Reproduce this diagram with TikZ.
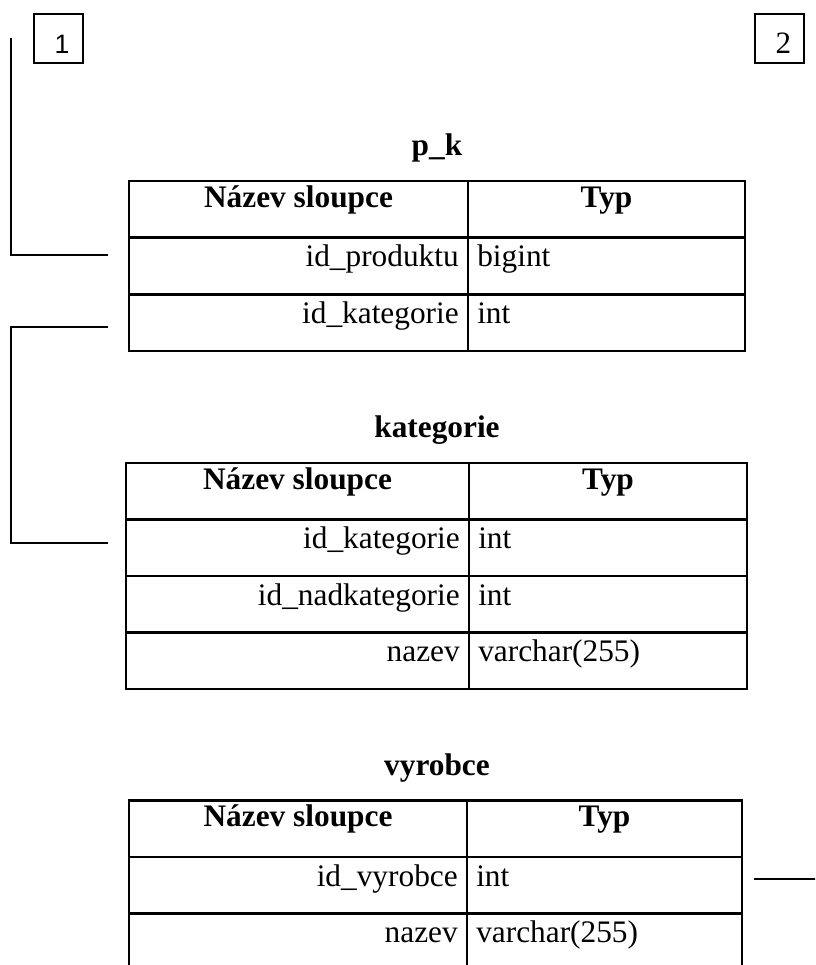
\documentclass[tikz,border=0pt]{standalone}
\usepackage{fontspec}
\setmainfont{Liberation Serif}
\newfontfamily\digitsans{Liberation Sans}
\begin{document}
\begin{tikzpicture}[x=0.75pt,y=-0.75pt,
  tblframe/.style={line width=2pt},
  link/.style={line width=1.3pt},
  numbox/.style={draw,line width=1.3pt,minimum size=36.75pt,inner sep=0pt},
  tabtitle/.style={font=\fontsize{23.5}{28}\selectfont\bfseries,anchor=base,inner sep=0pt},
  headcell/.style={font=\fontsize{23.5}{28}\selectfont\bfseries,anchor=base,inner sep=0pt},
  namecell/.style={font=\fontsize{23.5}{28}\selectfont,anchor=base east,inner sep=0pt},
  typecell/.style={font=\fontsize{23.5}{28}\selectfont,anchor=base west,inner sep=0pt}]
\useasboundingbox (0,0) rectangle (815,965);
\clip (0,0) rectangle (815,965);

% numbered page markers
\node (box1) [numbox] at (58.5,38.5) {};
\node (n1) [anchor=base,inner sep=0pt,font=\digitsans\fontsize{20}{24}\selectfont] at (62,53) {1};
\node (box2) [numbox] at (779.5,38.5) {};
\node (n2) [anchor=base,inner sep=0pt,font=\fontsize{23.3}{28}\selectfont] at (783.5,53) {2};

% ---- table p_k ----
\node (tpk) [tabtitle] at (437,155) {p\_k};
\draw[tblframe] (129,181) rectangle (745,351);
\draw[tblframe] (468,181) -- (468,351);
\draw[tblframe] (129,237.7) -- (745,237.7) (129,294.3) -- (745,294.3);
\node (pkh1) [headcell] at (298.5,207) {Název sloupce};
\node (pkh2) [headcell] at (606.5,207) {Typ};
\node (pkn1) [namecell] at (459,266.7) {id\_produktu};
\node (pkt1) [typecell] at (477,266.7) {bigint};
\node (pkn2) [namecell] at (459,323.3) {id\_kategorie};
\node (pkt2) [typecell] at (477,323.3) {int};

% ---- table kategorie ----
\node (tkat) [tabtitle] at (437,437) {kategorie};
\draw[tblframe] (126,463) rectangle (747,689);
\draw[tblframe] (469,463) -- (469,689);
\draw[tblframe] (126,519.5) -- (747,519.5) (126,576) -- (747,576) (126,632.5) -- (747,632.5);
\node (kh1) [headcell] at (297.5,489) {Název sloupce};
\node (kh2) [headcell] at (608,489) {Typ};
\node (kn1) [namecell] at (460,548.5) {id\_kategorie};
\node (kt1) [typecell] at (478,548.5) {int};
\node (kn2) [namecell] at (460,605) {id\_nadkategorie};
\node (kt2) [typecell] at (478,605) {int};
\node (kn3) [namecell] at (460,661.5) {nazev};
\node (kt3) [typecell] at (478,661.5) {varchar(255)};

% ---- table vyrobce (runs on past the page edge) ----
\node (tvyr) [tabtitle] at (437,775) {vyrobce};
\draw[tblframe] (129,980) -- (129,800.5) -- (742,800.5) -- (742,980);
\draw[tblframe] (467,800.5) -- (467,980);
\draw[tblframe] (129,857) -- (742,857) (129,913.5) -- (742,913.5) (129,970) -- (742,970);
\node (vh1) [headcell] at (298,826.5) {Název sloupce};
\node (vh2) [headcell] at (604.5,826.5) {Typ};
\node (vn1) [namecell] at (458,886) {id\_vyrobce};
\node (vt1) [typecell] at (476,886) {int};
\node (vn2) [namecell] at (458,942.5) {nazev};
\node (vt2) [typecell] at (476,942.5) {varchar(255)};

% ---- relationship lines ----
\coordinate (r1a) at (11,38);
\coordinate (r1b) at (108,255);
\draw[link] (r1a) |- (r1b);

\coordinate (r2a) at (108,327);
\coordinate (r2k) at (11,327);
\coordinate (r2b) at (108,543);
\draw[link] (r2a) -- (r2k) |- (r2b);

\coordinate (r3a) at (754,879);
\coordinate (r3b) at (816,879);
\draw[link] (r3a) -- (r3b);
\end{tikzpicture}
\end{document}
